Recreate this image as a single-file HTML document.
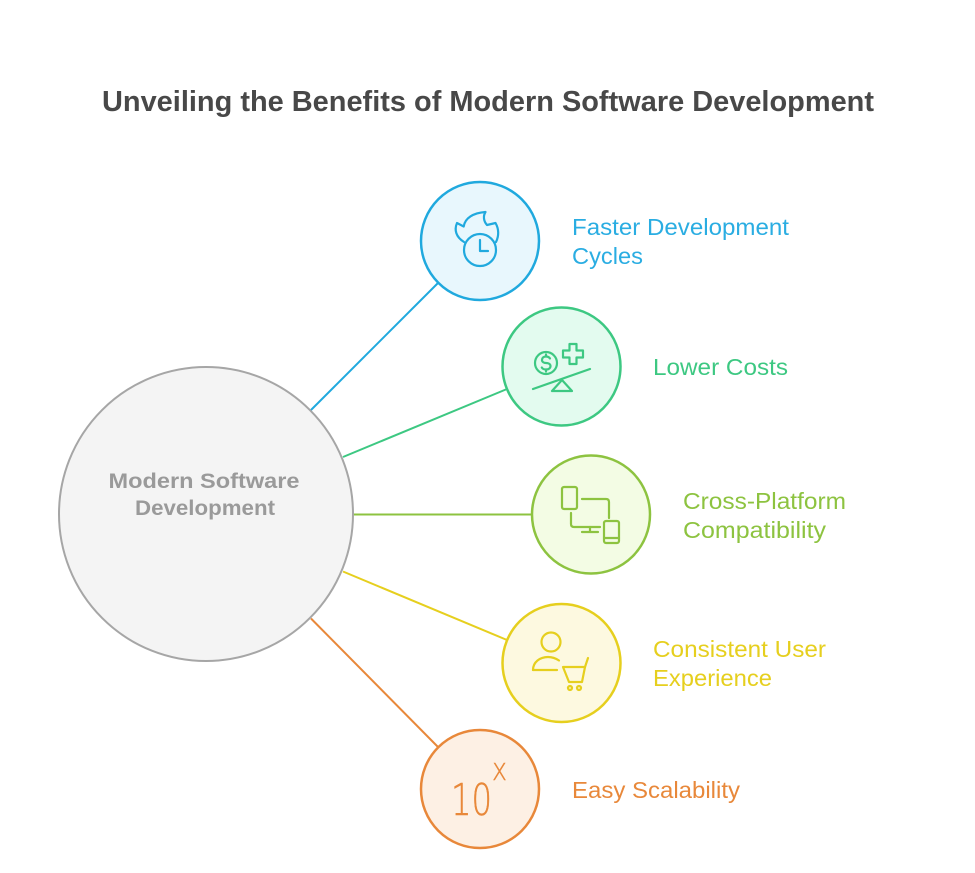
<!DOCTYPE html>
<html>
<head>
<meta charset="utf-8">
<style>
  html,body{margin:0;padding:0;background:#ffffff;}
  svg{display:block;}
  text{font-family:"Liberation Sans", sans-serif;}
</style>
</head>
<body>
<svg width="975" height="873" viewBox="0 0 975 873" xmlns="http://www.w3.org/2000/svg">
  <rect width="975" height="873" fill="#ffffff"/>

  <!-- Title -->
  <text x="102" y="111" font-size="29" font-weight="bold" fill="#484848" textLength="772" lengthAdjust="spacingAndGlyphs">Unveiling the Benefits of Modern Software Development</text>

  <!-- Connectors -->
  <g stroke-width="2" fill="none">
    <line x1="311" y1="410" x2="438" y2="283" stroke="#20A9DE"/>
    <line x1="343" y1="457" x2="507" y2="389" stroke="#3DC882"/>
    <line x1="354" y1="514.5" x2="531" y2="514.5" stroke="#8DC340"/>
    <line x1="343" y1="571.5" x2="507" y2="640" stroke="#E6CF1E"/>
    <line x1="311" y1="618.5" x2="438" y2="747" stroke="#E8883A"/>
  </g>

  <!-- Main circle -->
  <circle cx="206" cy="514" r="147" fill="#F4F4F4" stroke="#A6A6A6" stroke-width="2"/>
  <text x="204" y="488" font-size="21" font-weight="bold" fill="#9A9A9A" text-anchor="middle" textLength="191" lengthAdjust="spacingAndGlyphs">Modern Software</text>
  <text x="205" y="515" font-size="21" font-weight="bold" fill="#9A9A9A" text-anchor="middle" textLength="140" lengthAdjust="spacingAndGlyphs">Development</text>

  <!-- Blue circle -->
  <circle cx="480" cy="241" r="59" fill="#E8F7FD" stroke="#20A9DE" stroke-width="2.5"/>
  <g fill="none" stroke="#20A9DE" stroke-width="2.2" stroke-linecap="round" stroke-linejoin="round">
    <path d="M464,242 C456,237 454,230 457,223 L463.7,226.5 C465,218 473,213 485.5,212 C483,216 483.5,221 487,225 L495.5,223 C499,229 499,236 496,242"/>
    <circle cx="480" cy="250" r="16"/>
    <path d="M480,240 V251 H488"/>
  </g>
  <text x="572" y="235" font-size="23" fill="#2AADE2" textLength="217" lengthAdjust="spacingAndGlyphs">Faster Development</text>
  <text x="572" y="264" font-size="23" fill="#2AADE2" textLength="71" lengthAdjust="spacingAndGlyphs">Cycles</text>

  <!-- Green circle -->
  <circle cx="561.5" cy="366.5" r="59" fill="#E3FBEF" stroke="#3DC882" stroke-width="2.5"/>
  <g fill="none" stroke="#3DC882" stroke-width="2.2" stroke-linecap="round" stroke-linejoin="round">
    <circle cx="546" cy="363" r="11"/>
    <path d="M550,358.5 C549,357 548,356.5 546,356.5 C543.5,356.5 542,358 542,360 C542,362 544,363 546,363 C548.5,363 550.5,364 550.5,366 C550.5,368 549,369.5 546,369.5 C544,369.5 542.5,368.8 541.8,367.5"/>
    <path d="M546,354.5 V356.5 M546,369.5 V371.5"/>
    <path d="M569.5,344 H576.5 V350.5 H583 V357.5 H576.5 V364 H569.5 V357.5 H563 V350.5 H569.5 Z"/>
    <path d="M533,389 L590,369"/>
    <path d="M562,380 L552,391 H572 Z"/>
  </g>
  <text x="653" y="375" font-size="23" fill="#3DC882" textLength="135" lengthAdjust="spacingAndGlyphs">Lower Costs</text>

  <!-- Lime circle -->
  <circle cx="591" cy="514.5" r="59" fill="#F3FCE4" stroke="#8DC340" stroke-width="2.5"/>
  <g fill="none" stroke="#8DC340" stroke-width="2.2" stroke-linecap="round" stroke-linejoin="round">
    <rect x="562" y="487" width="15" height="22" rx="2"/>
    <path d="M582,499 H606 Q609,499 609,502 V518"/>
    <path d="M571,513 V524 Q571,527 574,527 H600"/>
    <path d="M590,527 V532 M582,532 H598"/>
    <rect x="604" y="521" width="15" height="22" rx="2"/>
    <path d="M604,538 H619"/>
  </g>
  <text x="683" y="509" font-size="23" fill="#8DC340" textLength="163" lengthAdjust="spacingAndGlyphs">Cross-Platform</text>
  <text x="683" y="538" font-size="23" fill="#8DC340" textLength="143" lengthAdjust="spacingAndGlyphs">Compatibility</text>

  <!-- Yellow circle -->
  <circle cx="561.5" cy="663" r="59" fill="#FDF9E0" stroke="#E6CF1E" stroke-width="2.5"/>
  <g fill="none" stroke="#E6CF1E" stroke-width="2.2" stroke-linecap="round" stroke-linejoin="round">
    <circle cx="551" cy="642" r="9.5"/>
    <path d="M533,670 C533,662 540,657 548,657 C553,657 556,658.5 559,660.5"/>
    <path d="M533,670 H557"/>
    <path d="M563,667 H585 L582,682 H569 Z"/>
    <path d="M585,667 L588,658"/>
    <circle cx="570" cy="688" r="2"/>
    <circle cx="579" cy="688" r="2"/>
  </g>
  <text x="653" y="657" font-size="23" fill="#E6CF1E" textLength="173" lengthAdjust="spacingAndGlyphs">Consistent User</text>
  <text x="653" y="686" font-size="23" fill="#E6CF1E" textLength="119" lengthAdjust="spacingAndGlyphs">Experience</text>

  <!-- Orange circle -->
  <circle cx="480" cy="789" r="59" fill="#FDF0E4" stroke="#E8883A" stroke-width="2.5"/>
  <text x="451" y="815" font-size="44" font-weight="200" fill="#E8883A" stroke="#E8883A" stroke-width="0.5" style="font-family:'DejaVu Sans', 'Liberation Sans', sans-serif;" textLength="41" lengthAdjust="spacingAndGlyphs">10</text>
  <text x="492" y="780" font-size="31" font-weight="200" fill="#E8883A" stroke="#E8883A" stroke-width="0.4" style="font-family:'DejaVu Sans', 'Liberation Sans', sans-serif;" textLength="15" lengthAdjust="spacingAndGlyphs">x</text>
  <text x="572" y="798" font-size="23" fill="#E8883A" textLength="168" lengthAdjust="spacingAndGlyphs">Easy Scalability</text>
</svg>
</body>
</html>
